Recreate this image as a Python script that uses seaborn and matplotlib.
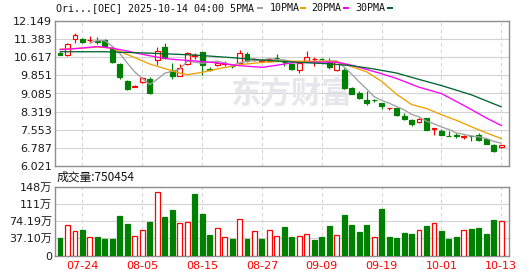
import numpy as np
import pandas as pd
import matplotlib
matplotlib.use('Agg')
import matplotlib.pyplot as plt
import matplotlib.patches as mpatches
import seaborn as sns

# ---------------- data ----------------
dates = ['07-21', '07-22', '07-23', '07-24', '07-25', '07-28', '07-29', '07-30', '07-31', '08-01',
         '08-04', '08-05', '08-06', '08-07', '08-08', '08-11', '08-12', '08-13', '08-14', '08-15',
         '08-18', '08-19', '08-20', '08-21', '08-22', '08-25', '08-26', '08-27', '08-28', '08-29',
         '09-02', '09-03', '09-04', '09-05', '09-08', '09-09', '09-10', '09-11', '09-12', '09-15',
         '09-16', '09-17', '09-18', '09-19', '09-22', '09-23', '09-24', '09-25', '09-26', '09-29',
         '09-30', '10-01', '10-02', '10-03', '10-06', '10-07', '10-08', '10-09', '10-10', '10-13']
tick_labels = ['07-24', '08-05', '08-15', '08-27', '09-09', '09-19', '10-01', '10-13']

opens = [10.80, 10.72, 11.38, 11.40, 11.33, 11.29, 11.36, 11.00, 10.34, 9.63,
         9.37, 9.57, 9.70, 10.48, 11.05, 10.06, 9.84, 10.33, 10.69, 10.85,
         10.10, 10.31, 10.35, 10.25, 10.37, 10.75, 10.48, 10.47, 10.44, 10.60,
         10.42, 10.33, 10.09, 10.45, 10.53, 10.56, 10.42, 10.07, 10.09, 9.32,
         9.11, 8.83, 8.81, 8.68, 8.46, 8.47, 8.15, 7.98, 7.87, 8.05,
         7.58, 7.52, 7.30, 7.31, 7.25, 7.29, 7.35, 7.17, 6.91, 6.83]
highs = [10.83, 11.24, 11.64, 11.45, 11.52, 11.47, 11.40, 11.07, 10.37, 9.67,
         9.43, 9.78, 9.78, 11.05, 11.21, 10.37, 10.33, 10.82, 10.79, 10.86,
         10.19, 10.44, 10.44, 10.30, 10.93, 10.82, 10.57, 10.52, 10.55, 10.76,
         10.51, 10.36, 10.42, 10.90, 10.62, 10.59, 10.59, 10.42, 10.16, 9.34,
         9.18, 9.18, 8.87, 8.70, 8.48, 8.49, 8.26, 7.99, 8.04, 8.06,
         7.63, 7.60, 7.52, 7.42, 7.35, 7.35, 7.42, 7.18, 6.97, 6.90]
lows = [10.70, 10.65, 11.21, 11.21, 11.21, 11.19, 11.07, 10.37, 9.70, 9.22,
        9.35, 9.53, 9.08, 10.27, 10.55, 9.70, 9.81, 10.30, 10.54, 9.88,
        10.02, 10.23, 10.23, 10.16, 10.33, 10.41, 10.44, 10.45, 10.42, 10.47,
        10.23, 10.09, 9.95, 10.43, 10.24, 10.49, 10.12, 10.05, 9.27, 9.06,
        8.85, 8.61, 8.73, 8.44, 8.40, 8.14, 7.98, 7.73, 7.84, 7.54,
        7.35, 7.32, 7.27, 7.19, 7.17, 7.07, 7.07, 6.95, 6.60, 6.79]
closes = [10.72, 11.19, 11.57, 11.27, 11.35, 11.27, 11.10, 10.40, 9.78, 9.29,
          9.40, 9.74, 9.11, 10.88, 10.58, 9.81, 10.16, 10.79, 10.73, 10.30,
          10.08, 10.38, 10.39, 10.23, 10.79, 10.44, 10.54, 10.49, 10.53, 10.58,
          10.40, 10.12, 10.39, 10.63, 10.55, 10.54, 10.19, 10.40, 9.32, 9.08,
          8.88, 8.69, 8.79, 8.54, 8.48, 8.16, 8.02, 7.81, 8.02, 7.56,
          7.61, 7.35, 7.29, 7.27, 7.28, 7.27, 7.14, 6.97, 6.65, 6.90]
# volume in units of 10k shares (万)
volume_wan = [38.0, 65.5, 52.8, 54.9, 40.1, 40.1, 35.9, 35.9, 86.6, 68.3,
              42.3, 56.3, 71.8, 136.6, 82.4, 99.3, 69.7, 73.2, 133.1, 90.8,
              44.4, 60.6, 39.4, 35.9, 79.6, 35.9, 52.8, 35.9, 56.3, 41.5,
              61.3, 40.1, 41.5, 45.8, 33.8, 40.1, 63.4, 43.7, 88.7, 65.5,
              50.7, 65.5, 39.4, 101.4, 40.1, 38.0, 48.6, 46.5, 54.2, 63.4,
              71.1, 52.8, 35.9, 40.1, 56.3, 57.0, 59.2, 46.5, 76.1, 75.0454]

# moving averages (index, value)
ma10_idx = [0, 3, 5, 7, 8, 10, 12, 14, 16, 17, 19, 21, 24, 27, 30, 34, 37, 39, 41, 43,
            45, 47, 49, 51, 53, 55, 57, 59]
ma10_val = [10.96, 11.00, 11.05, 11.00, 10.86, 10.60, 10.33, 10.14, 9.95, 9.88, 9.98, 10.12,
            10.30, 10.40, 10.45, 10.45, 10.44, 10.22, 10.00, 9.60, 9.05, 8.62, 8.45, 8.19,
            7.95, 7.68, 7.42, 7.18]
ma20_idx = [0, 2, 5, 7, 9, 11, 13, 15, 18, 21, 24, 27, 29, 31, 34, 37, 39, 41, 43, 45,
            48, 51, 54, 57, 59]
ma20_val = [10.94, 10.98, 11.07, 11.00, 10.88, 10.74, 10.62, 10.53, 10.46, 10.38, 10.26,
            10.19, 10.28, 10.38, 10.41, 10.41, 10.28, 10.10, 9.92, 9.72, 9.35, 9.08, 8.58,
            8.05, 7.73]
ma30_idx = [0, 6, 12, 18, 23, 27, 32, 36, 39, 42, 45, 48, 51, 55, 59]
ma30_val = [10.85, 10.85, 10.79, 10.71, 10.60, 10.50, 10.40, 10.34, 10.26, 10.12, 9.95,
            9.68, 9.42, 9.03, 8.52]

price_min, price_max = 6.021, 12.149
vol_max_wan = 148.38
vol_tick_labels = ['0', '37.10万', '74.19万', '111万', '148万']
last_volume = '750454'
header = 'Ori...[OEC] 2025-10-14 04:00 5PMA'
ma_names = ['10PMA', '20PMA', '30PMA']

# ---------------- style ----------------
sns.set_theme(style='white')
plt.rcParams['font.family'] = ['DejaVu Sans', 'Noto Sans CJK SC']

RED = '#ff0000'
GREEN = '#008000'
C5, C10, C20, C30 = '#a0a0a0', '#f0a000', '#ff00ff', '#006633'
GRID = '#d3d3d3'
SPINE = '#8e8e8e'

W, H = 530, 276
def fx(px):
    return px / W
def fy(py):
    return 1 - py / H

fig = plt.figure(figsize=(W / 100, H / 100), dpi=100)
fig.patch.set_facecolor('white')
ax = fig.add_axes([fx(55), fy(166), (509 - 55) / W, (166 - 21) / H])
ax2 = fig.add_axes([fx(55), fy(255.5), (509 - 55) / W, (255.5 - 187) / H])

df = pd.DataFrame({'date': dates, 'open': opens, 'high': highs, 'low': lows,
                   'close': closes, 'vol': volume_wan})
df['x'] = np.arange(len(df))
df['up'] = df['close'] >= df['open']
prev_close = df['close'].shift(1).fillna(df['open'])
df['vol_up'] = df['close'] >= prev_close
df['ma5'] = df['close'].rolling(5).mean()

bw = 0.66
# wicks
ax.vlines(df['x'], df['low'], df['high'],
          colors=[RED if u else GREEN for u in df['up']], linewidth=0.85, zorder=3)
# bodies
body_bottom = np.minimum(df['open'], df['close'])
body_h = np.abs(df['close'] - df['open'])
ax.bar(df['x'], body_h, bottom=body_bottom, width=bw,
       color=['white' if u else GREEN for u in df['up']],
       edgecolor=[RED if u else GREEN for u in df['up']], linewidth=0.85, zorder=4)

# moving averages
sns.lineplot(x=df['x'], y=df['ma5'], ax=ax, color=C5, linewidth=0.95, zorder=5)
sns.lineplot(x=ma10_idx, y=ma10_val, ax=ax, color=C10, linewidth=0.95, zorder=5)
sns.lineplot(x=ma20_idx, y=ma20_val, ax=ax, color=C20, linewidth=0.95, zorder=5)
sns.lineplot(x=ma30_idx, y=ma30_val, ax=ax, color=C30, linewidth=0.95, zorder=5)

# volume bars
ax2.bar(df['x'], df['vol'], width=bw,
        color=['white' if u else GREEN for u in df['vol_up']],
        edgecolor=[RED if u else GREEN for u in df['vol_up']], linewidth=0.9, zorder=3)

# watermark
ax.text(0.52, 0.50, '东方财富', transform=ax.transAxes, ha='center', va='center',
        fontsize=22, fontweight='bold', color='#e6e6ec', zorder=1,
        family=['Noto Sans CJK SC'])

# axes formatting
tick_pos = [dates.index(t) for t in tick_labels]
for a in (ax, ax2):
    a.set_xlim(-0.67, 60.03)
    a.set_facecolor('white')
    a.set_xticks(tick_pos)
    a.xaxis.grid(True, color=GRID, linestyle=(0, (3, 3)), linewidth=0.8)
    a.yaxis.grid(True, color=GRID, linestyle='-', linewidth=0.8)
    a.set_axisbelow(True)
    for s in a.spines.values():
        s.set_color(SPINE)
        s.set_linewidth(1.0)
    a.set_xlabel('')
    a.set_ylabel('')
    a.tick_params(length=0)

ax.set_ylim(price_min, price_max)
pt = np.linspace(price_min, price_max, 9)
ax.set_yticks(pt)
ax.set_yticklabels([f'{v:.3f}' for v in pt], fontsize=8, color='#1a1a1a')
ax.tick_params(axis='y', pad=2)
ax.tick_params(axis='x', labelbottom=False)

ax2.set_ylim(0, vol_max_wan)
vt = np.linspace(0, vol_max_wan, 5)
ax2.set_yticks(vt)
ax2.set_yticklabels(vol_tick_labels, fontsize=8, color='#1a1a1a')
ax2.tick_params(axis='y', pad=2)
ax2.set_xticklabels(tick_labels, fontsize=8, color=RED)
ax2.tick_params(axis='x', pad=4)

# header texts
fig.text(fx(56), fy(8), header, fontsize=7.2, family=['DejaVu Sans Mono'],
         va='center', ha='left', color='#111111')
for name, px in zip(ma_names, [270, 311, 355.5]):
    fig.text(fx(px), fy(8), name, fontsize=7.2, family=['DejaVu Sans Mono'],
             va='center', ha='left', color='#111111')
for col, px in zip([C5, C10, C20, C30], [256.5, 300, 343.3, 386.7]):
    fig.add_artist(mpatches.Rectangle((fx(px), fy(9.3)), 6 / W, 2.6 / H,
                                      transform=fig.transFigure, color=col, lw=0))

fig.text(fx(57), fy(177.5), '成交量:' + last_volume, fontsize=8.5,
         family=['Noto Sans CJK SC', 'DejaVu Sans'], va='center', ha='left', color='#111111')

fig.savefig('out.png', dpi=100, facecolor='white')
